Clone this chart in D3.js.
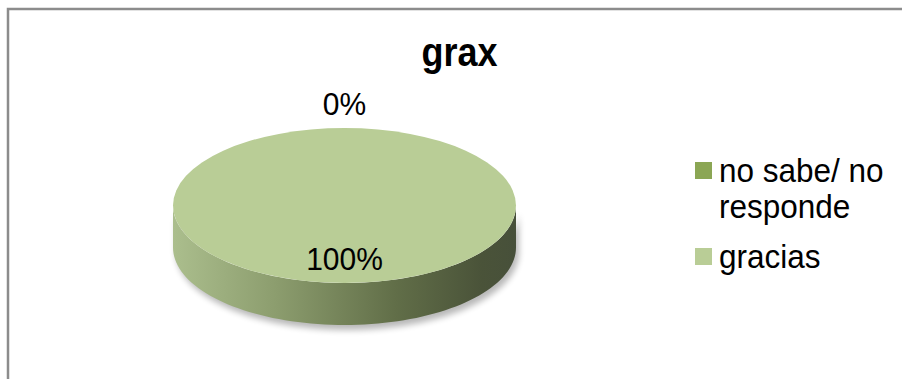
<!DOCTYPE html>
<html>
<head>
<meta charset="utf-8">
<script src="https://cdn.jsdelivr.net/npm/d3@7"></script>
<style>
  html, body { margin: 0; padding: 0; background: #fff; }
  svg { display: block; }
  text { font-family: "Liberation Sans", Arial, sans-serif; fill: #000; }
</style>
</head>
<body>
<svg id="chart" width="902" height="379"></svg>
<script>
// Survey answers for "grax"
const title = "grax";
const categories = ["no sabe/ no responde", "gracias"];
const legendLines = [["no sabe/ no", "responde"], ["gracias"]];
const values = [0, 100];
const colors = ["#8ba654", "#b9cd96"];

const W = 902, H = 379;
const svg = d3.select("#chart");

// frame
svg.append("rect")
  .attr("x", 8).attr("y", 9)
  .attr("width", W + 20).attr("height", H + 20)
  .attr("fill", "#fff").attr("stroke", "#8c8c8c").attr("stroke-width", 2.5);

// 3D pie geometry
const cx = 344.5, cy = 205.5, rx = 171.5, ry = 77.5, depth = 42;
const tilt = ry / rx;

const defs = svg.append("defs");
const side = defs.append("linearGradient").attr("id", "sideGrad")
  .attr("gradientUnits", "userSpaceOnUse")
  .attr("x1", cx - rx).attr("x2", cx + rx).attr("y1", 0).attr("y2", 0);
[["0%", "#abbe8d"], ["30%", "#8c9d6e"], ["65%", "#616e48"], ["90%", "#4a5339"], ["100%", "#47503a"]]
  .forEach(([o, c]) => side.append("stop").attr("offset", o).attr("stop-color", c));

const blur = defs.append("filter").attr("id", "shadow")
  .attr("x", "-20%").attr("y", "-20%").attr("width", "140%").attr("height", "160%");
blur.append("feGaussianBlur").attr("stdDeviation", 3);

const pie = d3.pie().sort(null).value(d => d)(values);
const total = d3.sum(values);

// point on the ellipse for a d3 angle (0 at top, clockwise)
const px = a => cx + rx * Math.sin(a);
const py = (a, dz = 0) => cy - ry * Math.cos(a) + dz;

const g = svg.append("g");

// visible front wall of each slice: angles in [PI/2, 3PI/2]
function wallPath(a0, a1) {
  const s = Math.max(a0, Math.PI / 2), e = Math.min(a1, 3 * Math.PI / 2);
  if (e <= s) return null;
  const n = 80;
  const ts = d3.range(n + 1).map(i => s + (e - s) * i / n);
  const top = ts.map(t => [px(t), py(t)]);
  const bot = ts.slice().reverse().map(t => [px(t), py(t, depth)]);
  return d3.line()(top.concat(bot)) + "Z";
}

// soft shadow under the wall
pie.forEach(p => {
  const d = wallPath(p.startAngle, p.endAngle);
  if (!d) return;
  g.append("path").attr("d", d)
    .attr("transform", "translate(3,5)")
    .attr("fill", "#000").attr("opacity", 0.28)
    .attr("filter", "url(#shadow)");
});

pie.forEach(p => {
  const d = wallPath(p.startAngle, p.endAngle);
  if (!d) return;
  g.append("path").attr("d", d).attr("fill", "url(#sideGrad)");
});

// top faces: circular arcs squashed into the tilted plane
const arc = d3.arc().innerRadius(0).outerRadius(rx);
pie.forEach((p, i) => {
  if (p.endAngle - p.startAngle <= 0) return;
  g.append("path")
    .attr("d", arc(p))
    .attr("transform", `translate(${cx},${cy}) scale(1,${tilt})`)
    .attr("fill", colors[i]);
});

// data labels
pie.forEach((p, i) => {
  const mid = (p.startAngle + p.endAngle) / 2;
  const pct = Math.round(values[i] / total * 100) + "%";
  const k = values[i] > 0 ? 0.7 : 1.3;
  const lx = cx + rx * k * Math.sin(mid);
  const ly = cy - ry * k * Math.cos(mid);
  svg.append("text")
    .attr("transform", `translate(${lx},${ly + 10}) scale(1,1.07)`)
    .attr("text-anchor", "middle")
    .attr("font-size", 30)
    .text(pct);
});

// title
svg.append("text")
  .attr("transform", "translate(459.5,66) scale(1,1.15)")
  .attr("text-anchor", "middle")
  .attr("font-size", 36).attr("font-weight", "bold")
  .text(title);

// legend
const legendY = [162, 248];
const legend = svg.append("g");
categories.forEach((c, i) => {
  legend.append("rect")
    .attr("x", 695).attr("y", legendY[i])
    .attr("width", 17).attr("height", 17)
    .attr("fill", colors[i]);
  legendLines[i].forEach((line, j) => {
    legend.append("text")
      .attr("transform", `translate(719,${legendY[i] + 20 + j * 36}) scale(1,1.06)`)
      .attr("font-size", 31.5)
      .text(line);
  });
});
</script>
</body>
</html>
